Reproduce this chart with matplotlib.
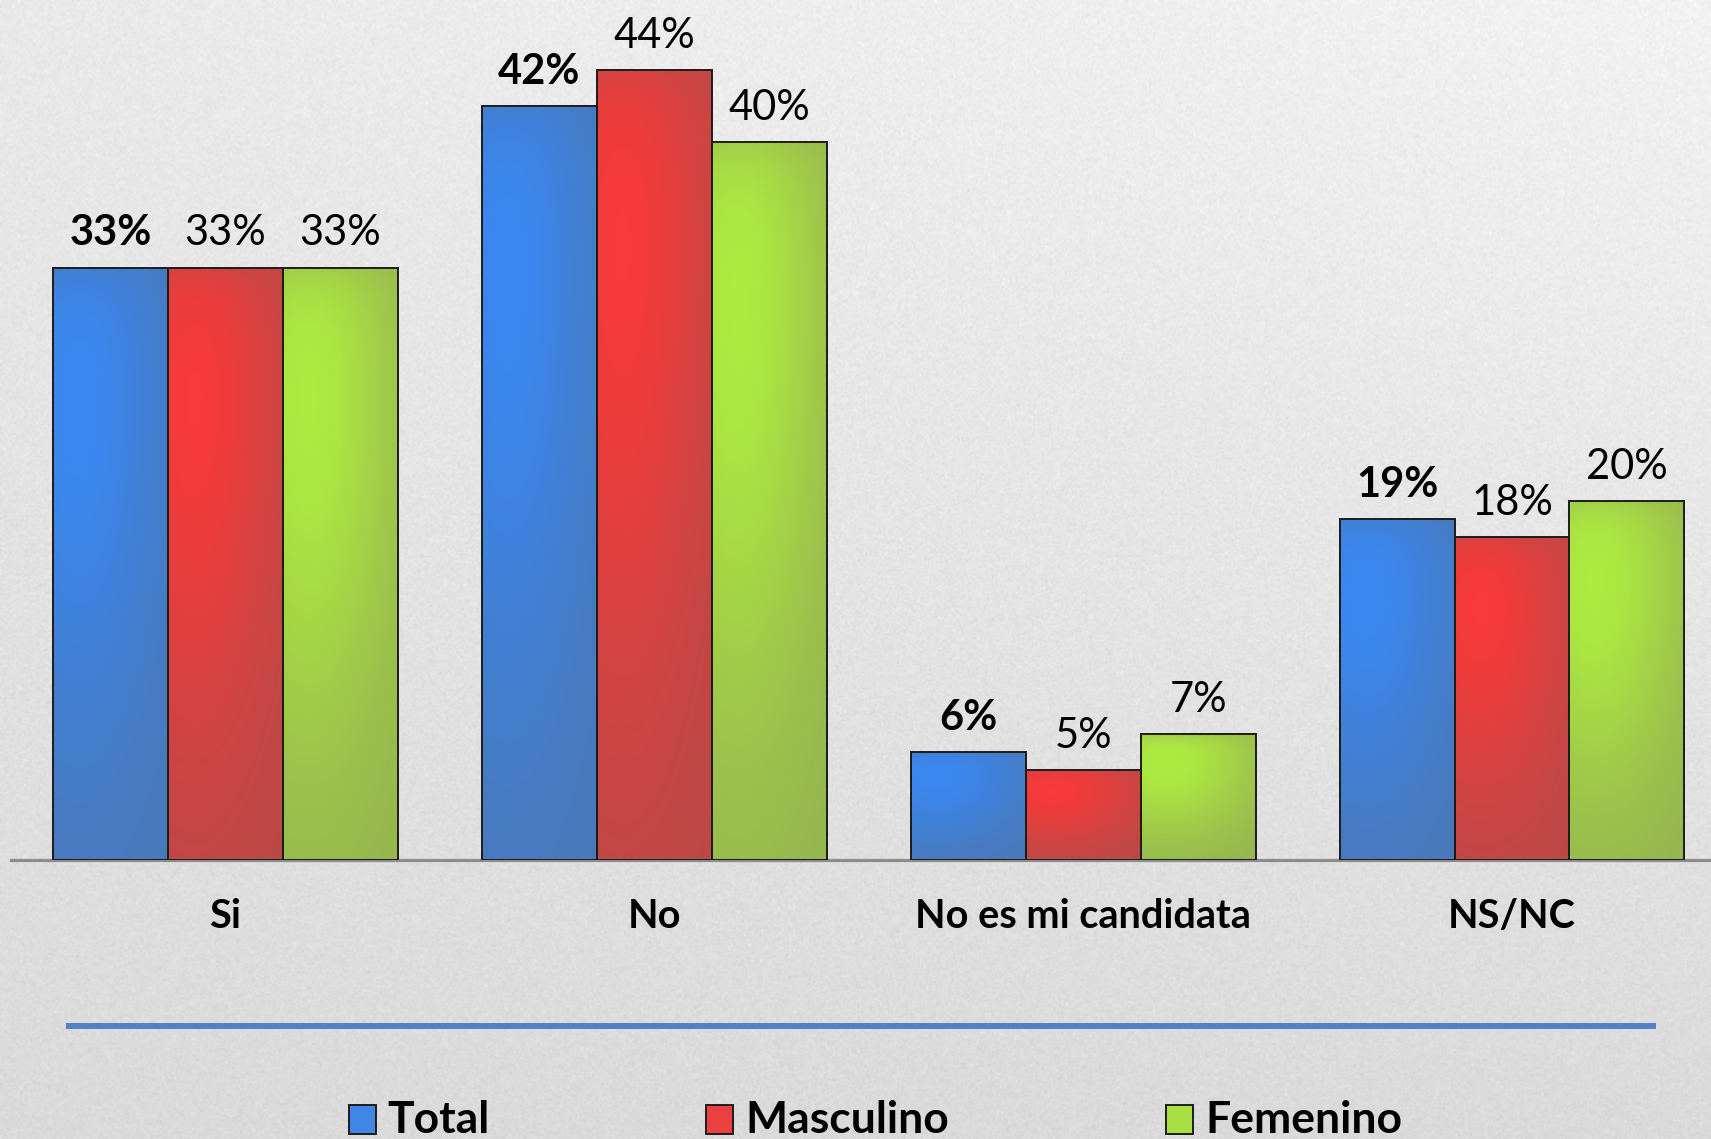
import numpy as np
import matplotlib
matplotlib.use('Agg')
import matplotlib.pyplot as plt
from matplotlib.colors import to_rgb
from matplotlib.patches import Rectangle
from matplotlib.lines import Line2D

categories = ['Si', 'No', 'No es mi candidata', 'NS/NC']
series_names = ['Total', 'Masculino', 'Femenino']
total = [33, 42, 6, 19]
masculino = [33, 44, 5, 18]
femenino = [33, 40, 7, 20]

plt.rcParams['font.family'] = ['Lato', 'DejaVu Sans']

W, H = 1711, 1139
fig = plt.figure(figsize=(W / 100, H / 100), dpi=100)

# background gradient with a light paper texture
bg = fig.add_axes([0, 0, 1, 1], zorder=-10)
yy, xx = np.mgrid[0:1:570j, 0:1:856j]
v = 0.855 + 0.06 * (1 - yy) + 0.035 * xx * (1 - yy)
rng = np.random.default_rng(3)
v = np.clip(v + rng.normal(0, 0.012, v.shape), 0, 1)
bg.imshow(np.dstack([v, v, v]), extent=[0, 1, 0, 1], aspect='auto', origin='upper',
          interpolation='bilinear')
bg.axis('off')

ax = fig.add_axes([11 / W, (H - 860) / H, (W - 11) / W, 860 / H])
ax.patch.set_alpha(0)
for s in ['top', 'right', 'left']:
    ax.spines[s].set_visible(False)
ax.spines['bottom'].set_color('#8c8c8c')
ax.spines['bottom'].set_linewidth(2.3)
ax.set_yticks([])

x = np.arange(len(categories))
bw = 0.268
series = [total, masculino, femenino]
base_cols = ['#4a78b6', '#b84a47', '#95b350']
hi_cols = ['#3a88f2', '#f83a3a', '#aeec40']
leg_cols = ['#3f86e6', '#ea4040', '#a8e044']

nu, nv = 60, 160
uu, vv = np.meshgrid(np.linspace(0, 1, nu), np.linspace(1, 0, nv))
t = np.exp(-((uu - 0.22) / 0.75) ** 2 - ((vv - 0.8) / 0.6) ** 2)
t = t * (1 - 0.45 * np.exp(-(1 - vv) / 0.05))

for i, (vals, bc, hc, name) in enumerate(zip(series, base_cols, hi_cols, series_names)):
    pos = x + (i - 1) * bw
    bars = ax.bar(pos, vals, bw, color=bc, edgecolor='none', zorder=2)
    b = np.array(to_rgb(bc)); h = np.array(to_rgb(hc))
    img = b[None, None, :] + t[:, :, None] * (h - b)[None, None, :]
    for rect in bars:
        x0, w0, h0 = rect.get_x(), rect.get_width(), rect.get_height()
        im = ax.imshow(img, extent=[x0, x0 + w0, 0, h0], aspect='auto',
                       interpolation='bilinear', zorder=2.5)
        im.set_clip_path(rect)
    ax.bar(pos, vals, bw, fill=False, edgecolor='#1c1c1c', linewidth=1.4, zorder=3)
    for px, val in zip(pos, vals):
        ax.annotate(f'{val}%', (px, val), xytext=(0, 16), textcoords='offset points',
                    ha='center', va='baseline', fontsize=30,
                    fontweight='bold' if i == 0 else 'normal', color='black')

ax.set_xlim(-0.5, 3.464)
ax.set_ylim(0, 47.9)
ax.set_xticks(x, categories, fontsize=28.5, fontweight='bold')
ax.tick_params(axis='x', length=0, pad=27)

# separator line
fig.add_artist(Line2D([69 / W, 1653 / W], [(H - 1026) / H] * 2, color='#4f81c4', lw=4.3))

# legend
leg_sq = [349, 706, 1166]
leg_tx = [387, 745, 1205]
for sq, tx, name, lc in zip(leg_sq, leg_tx, series_names, leg_cols):
    fig.add_artist(Rectangle((sq / W, (H - 1134) / H), 27 / W, 29 / H,
                             facecolor=lc, edgecolor='#1c1c1c', lw=1.4,
                             transform=fig.transFigure))
    fig.text(tx / W, (H - 1133) / H, name, fontsize=32, fontweight='bold',
             ha='left', va='baseline')

fig.savefig('out.png', dpi=100)
